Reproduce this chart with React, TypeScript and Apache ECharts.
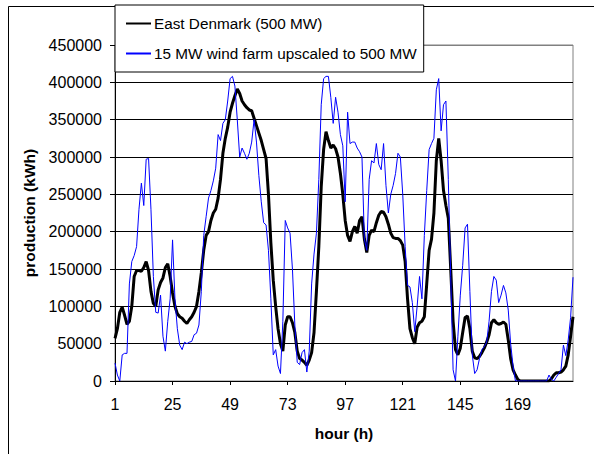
import { useEffect, useRef } from 'react';
import * as echarts from 'echarts';
import type { EChartsOption } from 'echarts';

// hours 1..192
const hours: string[] = Array.from({ length: 192 }, (_, i) => String(i + 1));

const yTicks = [0, 50000, 100000, 150000, 200000, 250000, 300000, 350000, 400000, 450000];

// East Denmark (500 MW), kWh per hour
const eastDenmark: number[] = [
  57000, 70000, 92000, 99000, 88000, 76000, 80000, 100000, 140000, 148000,
  148000, 147000, 152000, 160000, 148000, 120000, 104000, 100000, 122000, 132000,
  138000, 152000, 157000, 140000, 118000, 100000, 90000, 86000, 84000, 80000,
  77000, 82000, 86000, 92000, 100000, 120000, 145000, 175000, 195000, 200000,
  215000, 225000, 230000, 245000, 270000, 305000, 325000, 340000, 360000, 372000,
  382000, 391000, 385000, 375000, 370000, 366000, 363000, 362000, 352000, 342000,
  332000, 322000, 310000, 298000, 250000, 185000, 135000, 100000, 70000, 50000,
  40000, 75000, 86000, 86000, 78000, 65000, 40000, 30000, 28000, 25000,
  21000, 28000, 38000, 65000, 120000, 180000, 260000, 310000, 334000, 322000,
  312000, 316000, 311000, 300000, 278000, 250000, 215000, 195000, 187000, 200000,
  207000, 198000, 215000, 220000, 190000, 172000, 195000, 202000, 200000, 212000,
  222000, 227000, 226000, 220000, 210000, 198000, 192000, 191000, 191000, 188000,
  182000, 160000, 110000, 70000, 58000, 50000, 72000, 78000, 80000, 86000,
  130000, 175000, 190000, 225000, 295000, 325000, 295000, 255000, 235000, 218000,
  150000, 80000, 42000, 35000, 44000, 65000, 85000, 87000, 70000, 40000,
  31000, 30000, 33000, 38000, 44000, 52000, 62000, 78000, 82000, 78000,
  76000, 77000, 79000, 76000, 55000, 30000, 15000, 8000, 2000, 0,
  0, 0, 0, 0, 0, 0, 0, 0, 0, 0,
  0, 0, 3000, 8000, 11000, 11000, 12000, 15000, 20000, 35000,
  60000, 86000,
];

// 15 MW wind farm upscaled to 500 MW
const windFarm: number[] = [
  24000, 8000, 0, 35000, 37000, 37000, 130000, 160000, 168000, 180000,
  230000, 265000, 235000, 297000, 298000, 230000, 140000, 92000, 91000, 115000,
  60000, 40000, 80000, 110000, 189000, 110000, 70000, 48000, 42000, 52000,
  50000, 52000, 53000, 62000, 64000, 75000, 120000, 195000, 220000, 245000,
  255000, 268000, 285000, 330000, 322000, 345000, 350000, 375000, 405000, 408000,
  395000, 350000, 300000, 312000, 305000, 297000, 305000, 320000, 350000, 320000,
  275000, 240000, 212000, 209000, 175000, 110000, 35000, 42000, 20000, 10000,
  80000, 215000, 205000, 198000, 150000, 75000, 25000, 22000, 38000, 42000,
  12000, 40000, 130000, 170000, 198000, 270000, 370000, 405000, 408000, 408000,
  380000, 345000, 380000, 360000, 330000, 315000, 240000, 360000, 318000, 320000,
  320000, 312000, 307000, 300000, 190000, 175000, 270000, 295000, 292000, 318000,
  290000, 283000, 318000, 262000, 225000, 250000, 262000, 278000, 305000, 300000,
  250000, 180000, 128000, 126000, 105000, 66000, 100000, 140000, 110000, 195000,
  255000, 310000, 318000, 325000, 390000, 405000, 335000, 370000, 375000, 270000,
  140000, 15000, 0, 60000, 115000, 155000, 205000, 210000, 120000, 35000,
  10000, 15000, 30000, 42000, 46000, 52000, 80000, 120000, 140000, 135000,
  105000, 115000, 128000, 118000, 95000, 50000, 20000, 0, 0, 0,
  0, 0, 0, 0, 0, 0, 0, 0, 0, 0,
  0, 8000, 2000, 0, 5000, 10000, 15000, 48000, 34000, 55000,
  85000, 139000,
];

const FONT = '"Liberation Sans", Arial, sans-serif';

export default function App() {
  const chartRef = useRef<HTMLDivElement>(null);

  useEffect(() => {
    if (!chartRef.current) return;
    const chart = echarts.init(chartRef.current, undefined, { renderer: 'svg' });

    const option: EChartsOption = {
      animation: false,
      backgroundColor: '#fff',
      textStyle: { fontFamily: FONT, color: '#000' },
      grid: {
        left: 115,
        right: 21,
        top: 45,
        bottom: 73,
        show: true,
        borderColor: '#808080',
        borderWidth: 1,
      },
      legend: {
        orient: 'vertical',
        left: 115,
        top: 5,
        padding: [11, 7, 11, 10],
        itemGap: 15,
        itemWidth: 25,
        itemHeight: 14,
        backgroundColor: '#fff',
        borderColor: '#000',
        borderWidth: 1,
        borderRadius: 0,
        itemStyle: { opacity: 0 },
        textStyle: { fontFamily: FONT, fontSize: 15.3, color: '#000', padding: [0, 0, 0, -2] },
        data: ['East Denmark (500 MW)', '15 MW wind farm upscaled to 500 MW'],
      },
      xAxis: {
        type: 'category',
        data: hours,
        boundaryGap: false,
        name: 'hour (h)',
        nameLocation: 'middle',
        nameGap: 44,
        nameTextStyle: { fontFamily: FONT, fontSize: 15.5, fontWeight: 'bold', color: '#000' },
        axisLine: { lineStyle: { color: '#000', width: 1 } },
        axisTick: {
          interval: (idx: number) => idx % 24 === 0,
          length: 4,
          lineStyle: { color: '#000' },
        },
        axisLabel: {
          interval: (idx: number) => idx % 24 === 0,
          margin: 15,
          fontSize: 16,
          color: '#000',
          fontFamily: FONT,
        },
        splitLine: { show: false },
      },
      yAxis: {
        type: 'value',
        min: yTicks[0],
        max: yTicks[yTicks.length - 1],
        interval: 50000,
        name: 'production (kWh)',
        nameLocation: 'middle',
        nameGap: 77,
        nameTextStyle: { fontFamily: FONT, fontSize: 15.5, fontWeight: 'bold', color: '#000' },
        axisLine: { show: true, lineStyle: { color: '#000', width: 1 } },
        axisTick: { show: true, length: 5, lineStyle: { color: '#000' } },
        axisLabel: {
          margin: 13,
          fontSize: 16,
          color: '#000',
          fontFamily: FONT,
          formatter: (v: number) => String(v),
        },
        splitLine: {
          show: true,
          lineStyle: {
            color: yTicks.map((t, i) => (i === yTicks.length - 1 ? '#808080' : '#000')),
            width: 1,
          },
        },
      },
      series: [
        {
          name: 'East Denmark (500 MW)',
          type: 'line',
          data: eastDenmark,
          symbol: 'none',
          color: '#000',
          lineStyle: { color: '#000', width: 3 },
        },
        {
          name: '15 MW wind farm upscaled to 500 MW',
          type: 'line',
          data: windFarm,
          symbol: 'none',
          color: '#0000ff',
          lineStyle: { color: '#0000ff', width: 1 },
        },
      ],
      graphic: [
        {
          type: 'rect',
          left: 6,
          top: 4,
          shape: { width: 600, height: 460 },
          style: { fill: 'none', stroke: '#000', lineWidth: 1 },
          silent: true,
        },
      ],
    };

    chart.setOption(option);
    return () => {
      chart.dispose();
    };
  }, []);

  return (
    <div
      ref={chartRef}
      style={{ position: 'absolute', left: 0, top: 0, width: 594, height: 454 }}
    />
  );
}
